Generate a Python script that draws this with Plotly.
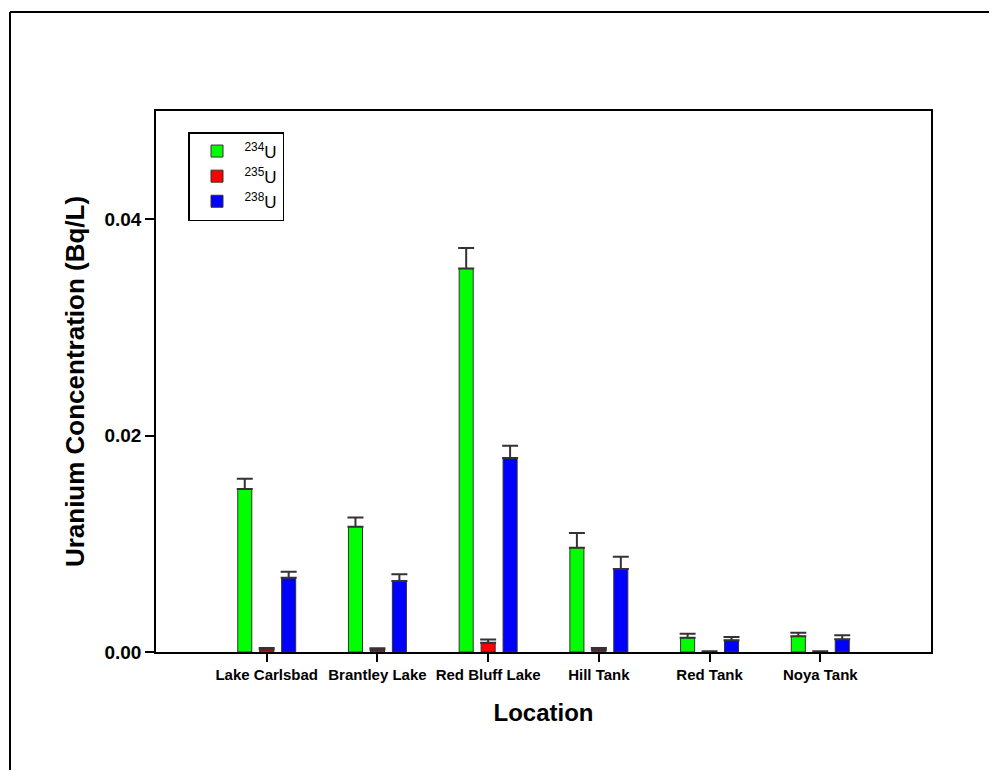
import plotly.graph_objects as go

locations = ["Lake Carlsbad", "Brantley Lake", "Red Bluff Lake", "Hill Tank", "Red Tank", "Noya Tank"]
u234 = [0.01506, 0.01158, 0.03544, 0.00964, 0.00132, 0.00145]
u234_err = [0.00095, 0.00086, 0.00190, 0.00135, 0.00037, 0.00033]
u235 = [0.00022, 0.00020, 0.00085, 0.00020, 0.00003, 0.00003]
u235_err = [0.00015, 0.00015, 0.00030, 0.00018, 0.00005, 0.00005]
u238 = [0.00687, 0.00656, 0.01792, 0.00767, 0.00108, 0.00117]
u238_err = [0.00055, 0.00062, 0.00114, 0.00113, 0.00031, 0.00037]

series = [
    ("<sup>234</sup>U", u234, u234_err, "#00FF00"),
    ("<sup>235</sup>U", u235, u235_err, "#FF0000"),
    ("<sup>238</sup>U", u238, u238_err, "#0000FF"),
]

fig = go.Figure()
for name, vals, errs, color in series:
    fig.add_trace(go.Bar(
        x=locations, y=vals, name=name,
        marker=dict(color=color, line=dict(color="#333333", width=1)),
        error_y=dict(type="data", array=errs, symmetric=False, arrayminus=[0] * len(errs),
                     color="#333333", thickness=2, width=8, visible=True),
    ))

# page body has an 8px margin on every side, so the figure is sized to fit inside it
OFF = 8
W, H = 997 - 2 * OFF, 778 - 2 * OFF
L, T = 156 - OFF, 111 - OFF
pw, ph = 931 - 156, 652 - 111
R, B = W - L - pw, H - T - ph

def px_x(x):
    return (x - 156) / pw

def px_y(y):
    return (652 - y) / ph

fig.update_layout(
    width=W, height=H,
    margin=dict(l=L, r=R, t=T, b=B, pad=0),
    paper_bgcolor="white", plot_bgcolor="white",
    barmode="group", bargap=0.405, bargroupgap=0.36,
    font=dict(family="Liberation Sans, Arial, sans-serif", color="black"),
    showlegend=True,
    legend=dict(
        x=px_x(188), y=px_y(132), xanchor="left", yanchor="top",
        bordercolor="black", borderwidth=1.5, bgcolor="white",
        font=dict(size=17, color="black"), itemwidth=45,
        tracegroupgap=0, traceorder="normal",
    ),
    xaxis=dict(
        type="category", range=[-1, 6],
        showline=True, linecolor="black", linewidth=1.5,
        ticks="outside", ticklen=8, tickwidth=1.5, tickcolor="black",
        tickfont=dict(size=15),
        tickvals=locations, ticktext=["<b>%s</b>" % s for s in locations],
        title=dict(text="<b>Location</b>", font=dict(size=24), standoff=22),
        mirror=True, showgrid=False, zeroline=False,
    ),
    yaxis=dict(
        range=[0, 0.05], tickvals=[0, 0.02, 0.04],
        ticktext=["<b>0.00</b>", "<b>0.02</b>", "<b>0.04</b>"],
        showline=True, linecolor="black", linewidth=1.5,
        ticks="outside", ticklen=9, tickwidth=1.5, tickcolor="black",
        tickfont=dict(size=19),
        title=dict(text="<b>Uranium Concentration (Bq/L)</b>", font=dict(size=26), standoff=12),
        mirror=True, showgrid=False, zeroline=False,
    ),
    shapes=[
        # outer frame: only its left and top edges fall inside the view
        dict(type="line", xref="paper", yref="paper",
             x0=px_x(10), x1=px_x(10), y0=px_y(12), y1=px_y(800),
             line=dict(color="black", width=2)),
        dict(type="line", xref="paper", yref="paper",
             x0=px_x(10), x1=px_x(1020), y0=px_y(12), y1=px_y(12),
             line=dict(color="black", width=2)),
        dict(type="line", xref="paper", yref="paper",
             x0=px_x(148), x1=0, y0=0, y1=0,
             line=dict(color="black", width=1.5)),
    ],
)

fig.write_html("out.html")
